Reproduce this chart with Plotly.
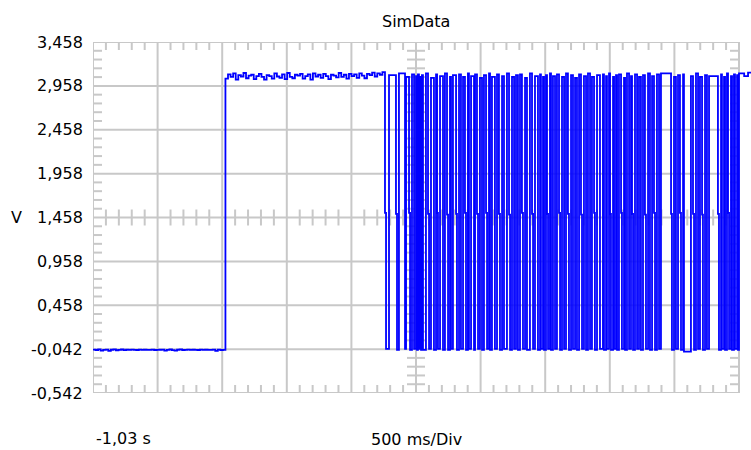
import numpy as np
import plotly.graph_objects as go

# ---- data -------------------------------------------------------------
title_text = "SimData"
y_unit = "V"
time_start_label = "-1,03 s"
time_base_label = "500 ms/Div"

t_start = -1.03          # s, left edge of the screen
t_div = 0.5              # s per division
n_xdiv = 10
v_bottom = -0.542        # V, bottom edge of the screen
v_div = 0.5              # V per division
n_ydiv = 8

y_tick_values = [-0.542, -0.042, 0.458, 0.958, 1.458, 1.958, 2.458, 2.958, 3.458]
y_tick_labels = ["-0,542", "-0,042", "0,458", "0,958", "1,458",
                 "1,958", "2,458", "2,958", "3,458"]

# idle low level before the step (sampled every ~20 ms)
low_level = [-0.048, -0.052, -0.045, -0.058, -0.050, -0.047, -0.061, -0.049, -0.044, -0.055,
             -0.050, -0.046, -0.053, -0.049, -0.051, -0.047, -0.050, -0.052, -0.048, -0.050,
             -0.049, -0.051, -0.050, -0.048, -0.052, -0.050, -0.049, -0.047, -0.058, -0.050,
             -0.046, -0.053, -0.060, -0.049, -0.045, -0.052, -0.050, -0.048, -0.051, -0.049,
             -0.050, -0.052, -0.048, -0.050, -0.049, -0.051, -0.050, -0.048, -0.063, -0.047,
             -0.052, -0.050]
low_t0, low_t1 = -1.03, -0.005

# idle high level after the step
high_level = [3.040, 3.090, 3.060, 3.100, 3.030, 3.080, 3.065, 3.105, 3.045, 3.075,
              3.085, 3.035, 3.070, 3.095, 3.060, 3.030, 3.080, 3.070, 3.040, 3.100,
              3.065, 3.050, 3.090, 3.035, 3.105, 3.060, 3.045, 3.085, 3.075, 3.095,
              3.040, 3.070, 3.090, 3.030, 3.100, 3.065, 3.085, 3.050, 3.095, 3.070,
              3.035, 3.085, 3.075, 3.055, 3.105, 3.060, 3.085, 3.040, 3.095, 3.070,
              3.090, 3.050, 3.100, 3.075, 3.045, 3.095, 3.080, 3.110, 3.065, 3.100,
              3.085, 3.115]
high_t0, high_t1 = -0.005, 1.230

# data burst: (edge time in s, level held after the edge in V)
burst_edges = [
    (1.230, 1.51), (1.238, -0.04), (1.261, 3.08), (1.315, 1.50), (1.323, -0.05),
    (1.338, 3.10), (1.385, -0.04), (1.393, 3.06), (1.416, 1.51), (1.424, -0.05),
    (1.439, 3.09), (1.455, -0.04), (1.470, 3.07), (1.478, -0.05), (1.485, 3.09),
    (1.493, -0.04), (1.501, 3.06), (1.509, -0.05), (1.516, 3.08), (1.524, -0.05),
    (1.547, 3.10), (1.563, 1.50), (1.571, -0.04), (1.586, 3.05), (1.609, -0.05),
    (1.625, 3.09), (1.633, 1.51), (1.640, -0.04), (1.656, 3.07), (1.679, -0.05),
    (1.694, 3.10), (1.710, 1.49), (1.718, -0.05), (1.733, 3.06), (1.741, -0.04),
    (1.756, 3.08), (1.780, 1.50), (1.787, -0.05), (1.803, 3.09), (1.818, -0.04),
    (1.834, 3.06), (1.849, 1.51), (1.857, -0.05), (1.872, 3.10), (1.880, -0.04),
    (1.896, 3.07), (1.919, -0.05), (1.927, 3.09), (1.942, 1.50), (1.950, -0.04),
    (1.965, 3.05), (1.981, -0.05), (1.996, 3.08), (2.012, 1.51), (2.020, -0.04),
    (2.035, 3.10), (2.043, -0.05), (2.058, 3.06), (2.081, -0.04), (2.097, 3.09),
    (2.112, 1.50), (2.120, -0.05), (2.136, 3.07), (2.151, -0.04), (2.174, 3.10),
    (2.190, 1.49), (2.198, -0.05), (2.213, 3.06), (2.229, -0.04), (2.244, 3.08),
    (2.259, -0.05), (2.275, 3.09), (2.290, 1.51), (2.298, -0.04), (2.314, 3.05),
    (2.329, -0.05), (2.352, 3.10), (2.368, 1.50), (2.376, -0.04), (2.391, 3.07),
    (2.414, -0.05), (2.430, 3.09), (2.437, -0.04), (2.453, 3.06), (2.461, -0.05),
    (2.476, 3.08), (2.484, 1.50), (2.492, -0.04), (2.507, 3.10), (2.515, -0.05),
    (2.530, 3.07), (2.546, -0.04), (2.561, 3.09), (2.577, 1.51), (2.585, -0.05),
    (2.600, 3.06), (2.616, -0.04), (2.631, 3.10), (2.646, 1.50), (2.654, -0.05),
    (2.670, 3.08), (2.685, -0.04), (2.701, 3.05), (2.716, -0.05), (2.732, 3.09),
    (2.747, 1.49), (2.755, -0.04), (2.770, 3.07), (2.786, -0.05), (2.801, 3.10),
    (2.817, -0.04), (2.832, 3.06), (2.848, 1.51), (2.855, -0.05), (2.871, 3.08),
    (2.894, -0.04), (2.917, 3.09), (2.925, -0.05), (2.941, 3.07), (2.948, -0.04),
    (2.964, 3.10), (2.972, 1.50), (2.979, -0.05), (2.995, 3.06), (3.003, -0.04),
    (3.018, 3.08), (3.026, -0.05), (3.041, 3.09), (3.057, 1.51), (3.064, -0.04),
    (3.080, 3.05), (3.088, -0.05), (3.103, 3.10), (3.119, -0.04), (3.134, 3.07),
    (3.142, 1.50), (3.150, -0.05), (3.165, 3.09), (3.181, -0.04), (3.196, 3.06),
    (3.211, -0.05), (3.227, 3.08), (3.242, 1.49), (3.250, -0.04), (3.266, 3.10),
    (3.281, -0.05), (3.297, 3.07), (3.312, 1.51), (3.320, -0.05), (3.335, 3.09),
    (3.351, -0.04), (3.366, 3.10), (3.444, 1.50), (3.451, -0.05), (3.467, 3.06),
    (3.482, -0.04), (3.498, 3.08), (3.513, 1.51), (3.521, -0.05), (3.537, 3.09),
    (3.544, -0.07), (3.598, 3.07), (3.614, 1.50), (3.622, -0.05), (3.637, 3.10),
    (3.653, -0.04), (3.668, 3.06), (3.684, 1.49), (3.691, -0.05), (3.707, 3.08),
    (3.722, -0.04), (3.738, 3.07), (3.807, 1.50), (3.815, -0.05), (3.831, 3.09),
    (3.838, -0.04), (3.854, 3.06), (3.862, -0.05), (3.877, 3.10), (3.885, 1.51),
    (3.893, -0.04), (3.908, 3.07), (3.916, -0.05), (3.931, 3.09), (3.939, -0.04),
    (3.955, 3.08), (3.962, -0.05), (3.970, 3.10), (4.010, 3.07), (4.040, 3.11),
    (4.070, 3.09),
]

# ---- layout constants -------------------------------------------------
W, H = 751, 450
M_L, M_R, M_T, M_B = 93, 0, 42, 57
plot_w = W - M_L - M_R
plot_h = H - M_T - M_B
frame_w_px = 646                      # width of the drawn screen frame
s_per_px = n_xdiv * t_div / frame_w_px
x_min = t_start
x_max = t_start + plot_w * s_per_px   # trace runs a little past the frame
y_min = v_bottom
y_max = v_bottom + n_ydiv * v_div
v_per_px = (y_max - y_min) / plot_h
t_end = t_start + n_xdiv * t_div

GRID = "#c8c8c8"
TRACE = "#0000ff"
FONT = "DejaVu Sans"

# ---- graticule --------------------------------------------------------
gx, gy = [], []


def seg(x0, y0, x1, y1):
    gx.extend([x0, x1, None])
    gy.extend([y0, y1, None])


for k in range(n_xdiv + 1):
    t = t_start + k * t_div
    seg(t, y_min, t, y_max)
for k in range(n_ydiv + 1):
    v = y_min + k * v_div
    seg(x_min, v, t_end, v)

t_mid = t_start + n_xdiv / 2 * t_div
v_mid = y_min + n_ydiv / 2 * v_div
tick_h = 8 * v_per_px
tick_w = 9 * s_per_px
for k in range(n_xdiv):
    for j in range(1, 5):
        t = t_start + k * t_div + j * t_div / 5
        seg(t, y_max, t, y_max - tick_h)
        seg(t, y_min, t, y_min + tick_h)
        seg(t, v_mid - tick_h, t, v_mid + tick_h)
for k in range(n_ydiv):
    for j in range(1, 5):
        v = y_min + k * v_div + j * v_div / 5
        seg(t_start, v, t_start + tick_w, v)
        seg(t_end, v, t_end - tick_w, v)
        seg(t_mid - tick_w, v, t_mid + tick_w, v)

# ---- signal -----------------------------------------------------------
low_t = np.linspace(low_t0, low_t1, len(low_level), endpoint=False)
high_t = np.linspace(high_t0, high_t1, len(high_level), endpoint=False)
burst_t = [e[0] for e in burst_edges]
burst_v = [e[1] for e in burst_edges]
sig_t = np.concatenate([low_t, high_t, burst_t])
sig_v = np.concatenate([low_level, high_level, burst_v])

fig = go.Figure()
fig.add_trace(go.Scatter(x=gx, y=gy, mode="lines",
                         line=dict(color=GRID, width=2),
                         hoverinfo="skip", showlegend=False))
fig.add_trace(go.Scatter(x=sig_t, y=sig_v, mode="lines",
                         line=dict(color=TRACE, width=1.8, shape="hv"),
                         showlegend=False, name=title_text))

ann = []
for v, lab in zip(y_tick_values, y_tick_labels):
    ann.append(dict(x=0, xref="paper", y=v, yref="y", text=lab,
                    xanchor="right", yanchor="middle", xshift=-8,
                    showarrow=False, font=dict(family=FONT, size=16, color="#000")))
ann.append(dict(x=0, xref="paper", y=v_mid, yref="y", text=y_unit,
                xanchor="center", yanchor="middle", xshift=-77,
                showarrow=False, font=dict(family=FONT, size=16, color="#000")))
ann.append(dict(x=t_mid, xref="x", y=1, yref="paper", text=title_text,
                xanchor="center", yanchor="middle", yshift=21,
                showarrow=False, font=dict(family=FONT, size=16, color="#000")))
ann.append(dict(x=t_start, xref="x", y=0, yref="paper", text=time_start_label,
                xanchor="left", yanchor="middle", xshift=1, yshift=-45,
                showarrow=False, font=dict(family=FONT, size=16, color="#000")))
ann.append(dict(x=t_mid, xref="x", y=0, yref="paper", text=time_base_label,
                xanchor="center", yanchor="middle", yshift=-46,
                showarrow=False, font=dict(family=FONT, size=16, color="#000")))

fig.update_layout(
    width=W, height=H,
    margin=dict(l=M_L, r=M_R, t=M_T, b=M_B, pad=0),
    paper_bgcolor="white", plot_bgcolor="white",
    xaxis=dict(range=[x_min, x_max], visible=False, fixedrange=True),
    yaxis=dict(range=[y_min, y_max], visible=False, fixedrange=True),
    annotations=ann,
    showlegend=False,
)

fig.write_html("out.html", include_plotlyjs=True, config={"displayModeBar": False})
